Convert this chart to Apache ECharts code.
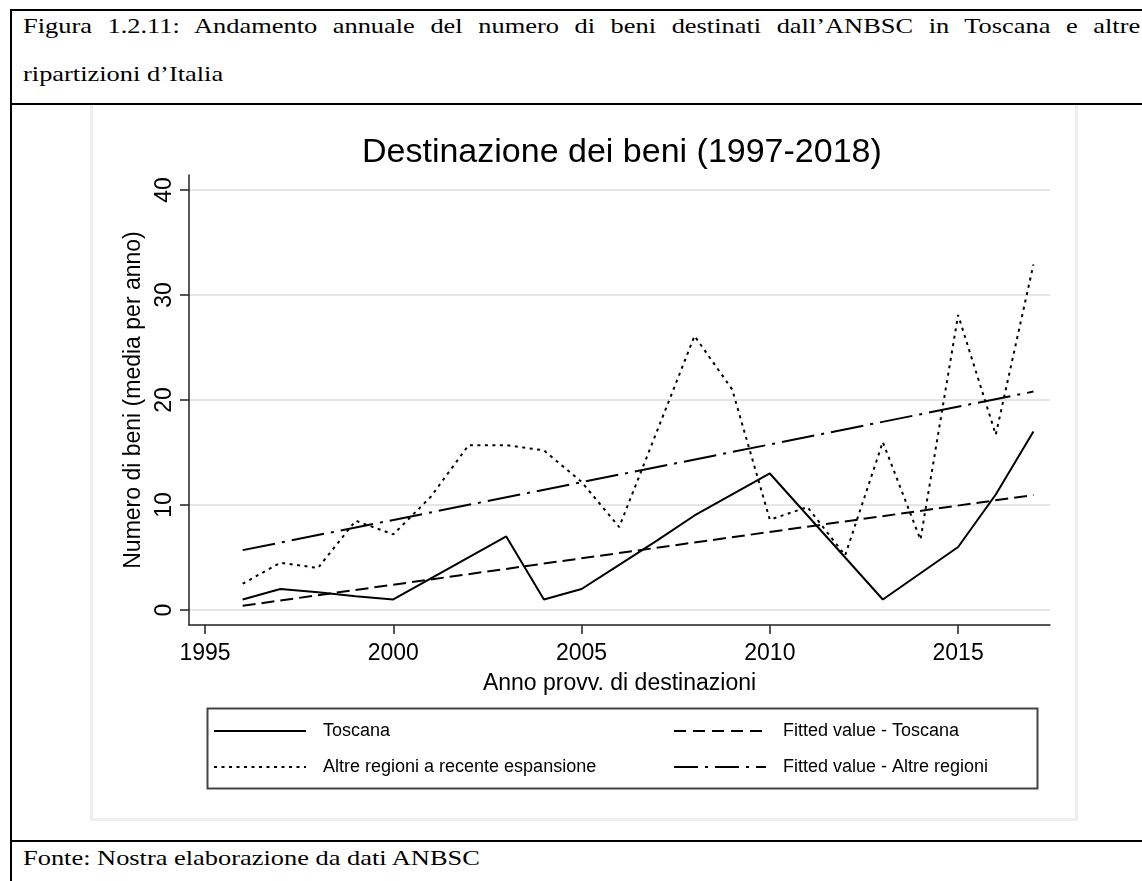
<!DOCTYPE html>
<html>
<head>
<meta charset="utf-8">
<script src="https://cdn.jsdelivr.net/npm/echarts@6/dist/echarts.min.js"></script>
<style>
html,body{margin:0;padding:0;background:#fff;width:1142px;height:881px;overflow:hidden;}
.vline{position:absolute;left:10px;top:9px;width:2px;height:900px;background:#000;}
.hline{position:absolute;left:10px;width:1200px;height:2px;background:#000;}
.txt{position:absolute;font-family:"Liberation Serif","Times New Roman",serif;font-size:22px;line-height:22px;transform-origin:0 50%;transform:scaleX(1.2);white-space:nowrap;color:#000;}
.just{white-space:normal;text-align:justify;text-align-last:justify;}
.inner{position:absolute;left:90px;top:105px;width:982px;height:713px;border:3px solid #efefef;border-top:none;box-sizing:content-box;}
#chart{position:absolute;left:0;top:0;width:1142px;height:881px;}
</style>
</head>
<body>
<div class="vline"></div>
<div class="hline" style="top:9px"></div>
<div class="hline" style="top:103px"></div>
<div class="hline" style="top:840px"></div>
<div class="txt just" style="left:23px;top:15px;width:931px;">Figura 1.2.11: Andamento annuale del numero di beni destinati dall’ANBSC in Toscana e altre</div>
<div class="txt" style="left:23px;top:63px;">ripartizioni d’Italia</div>
<div class="txt" style="left:23px;top:847px;">Fonte: Nostra elaborazione da dati ANBSC</div>
<div class="inner"></div>
<div id="chart"></div>
<script>
// ---- data ----
const years = [1996,1997,1998,1999,2000,2001,2002,2003,2004,2005,2006,2007,2008,2009,2010,2011,2012,2013,2014,2015,2016,2017];
const toscana = [1,2,1.7,1.3,1,3,5,7,1,2,4.3,6.6,9,11,13,9,5,1,3.5,6,11,17];
const altreRegioni = [2.5,4.5,4,8.5,7.2,10.8,15.7,15.7,15.2,12.2,7.9,17,26.1,21,8.6,9.8,5.2,16,6.7,28.1,16.7,32.9];
const fitYears = [1996,2017];
const fitToscana = [0.4,10.95];
const fitAltre = [5.7,20.8];
const xTicks = [1995,2000,2005,2010,2015];
const yTicks = [0,10,20,30,40];

const pairs = (xs, ys) => xs.map((x, i) => [x, ys[i]]);
const FONT = '"Liberation Sans", Arial, Helvetica, sans-serif';

const legendCommon = {
  orient: 'vertical', top: 721, padding: 0,
  itemWidth: 92, itemHeight: 14, itemGap: 16,
  itemStyle: {opacity: 0},
  textStyle: {fontFamily: FONT, fontSize: 18, lineHeight: 20, color: '#000', padding: [0,0,0,12]}
};

const chart = echarts.init(document.getElementById('chart'), null, {renderer:'canvas'});
chart.setOption({
  backgroundColor: 'transparent',
  animation: false,
  textStyle: {fontFamily: FONT, color: '#000'},
  title: {
    text: 'Destinazione dei beni (1997-2018)',
    left: 362, top: 136, padding: 0,
    textStyle: {fontFamily: FONT, fontSize: 34, fontWeight: 'normal', color: '#000'}
  },
  grid: {left: 189, right: 92, top: 175, bottom: 256, containLabel: false},
  xAxis: {
    type: 'value', min: 1994.575, max: 2017.44,
    name: 'Anno provv. di destinazioni', nameLocation: 'middle', nameGap: 47,
    nameTextStyle: {fontFamily: FONT, fontSize: 23, color: '#000'},
    axisLine: {show: true, onZero: false, lineStyle: {color: '#222', width: 1.5}},
    axisTick: {show: true, length: 9, customValues: xTicks, lineStyle: {color: '#222', width: 1.5}},
    axisLabel: {customValues: xTicks, fontSize: 23, margin: 17, color: '#000', fontFamily: FONT,
                formatter: v => String(v)},
    splitLine: {show: false}
  },
  yAxis: {
    type: 'value', min: -1.43, max: 41.43,
    name: 'Numero di beni (media per anno)', nameLocation: 'middle', nameGap: 37, nameRotate: 90,
    nameTextStyle: {fontFamily: FONT, fontSize: 23, color: '#000'},
    axisLine: {show: true, onZero: false, lineStyle: {color: '#222', width: 1.5}},
    axisTick: {show: true, length: 9, customValues: yTicks, lineStyle: {color: '#222', width: 1.5}},
    axisLabel: {customValues: yTicks, rotate: 90, fontSize: 23, margin: 13, color: '#000', fontFamily: FONT,
                formatter: v => String(v)},
    splitLine: {show: true, lineStyle: {color: '#e6e6e6', width: 2}}
  },
  legend: [
    Object.assign({}, legendCommon, {
      left: 213,
      data: ['Toscana', 'Altre regioni a recente espansione']
    }),
    Object.assign({}, legendCommon, {
      left: 673,
      data: [
        {name: 'Fitted value - Toscana', lineStyle: {type: [12, 7]}},
        {name: 'Fitted value - Altre regioni', lineStyle: {type: [24, 7, 3, 7]}}
      ]
    })
  ],
  graphic: [
    {type: 'rect', left: 205, top: 706, shape: {width: 830, height: 80},
     style: {fill: 'none', stroke: '#444', lineWidth: 2}, silent: true}
  ],
  series: [
    {name: 'Toscana', type: 'line', data: pairs(years, toscana), symbol: 'none',
     lineStyle: {color: '#000', width: 2, type: 'solid'}, itemStyle: {color: '#000'}},
    {name: 'Altre regioni a recente espansione', type: 'line', data: pairs(years, altreRegioni), symbol: 'none',
     lineStyle: {color: '#000', width: 2, type: [3, 4.5]}, itemStyle: {color: '#000'}},
    {name: 'Fitted value - Toscana', type: 'line', data: pairs(fitYears, fitToscana), symbol: 'none',
     lineStyle: {color: '#000', width: 2, type: [13, 6]}, itemStyle: {color: '#000'}},
    {name: 'Fitted value - Altre regioni', type: 'line', data: pairs(fitYears, fitAltre), symbol: 'none',
     lineStyle: {color: '#000', width: 2, type: [33, 7, 3, 7]}, itemStyle: {color: '#000'}}
  ]
});
</script>
</body>
</html>
